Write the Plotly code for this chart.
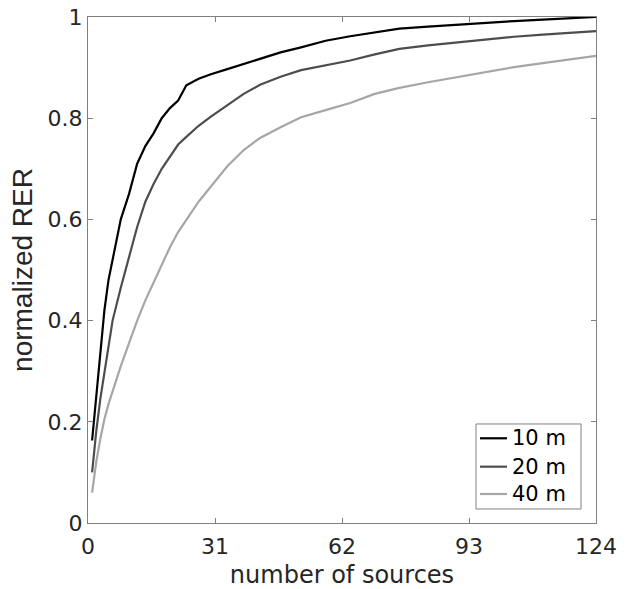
import plotly.graph_objects as go

sources = [1, 2, 3, 4, 5, 6, 8, 10, 12, 14, 16, 18, 20, 22, 24, 27, 30, 34, 38, 42,
           47, 52, 58, 64, 70, 76, 83, 90, 97, 104, 111, 118, 124]

rer_10m = [0.163, 0.245, 0.33, 0.42, 0.48, 0.52, 0.60, 0.65, 0.71, 0.745, 0.77, 0.80,
           0.82, 0.835, 0.865, 0.878, 0.887, 0.897, 0.907, 0.918, 0.930, 0.940, 0.953,
           0.962, 0.970, 0.977, 0.981, 0.985, 0.989, 0.992, 0.995, 0.997, 1.0]

rer_20m = [0.10, 0.18, 0.245, 0.30, 0.355, 0.40, 0.465, 0.525, 0.585, 0.635, 0.67, 0.70,
           0.725, 0.748, 0.763, 0.785, 0.803, 0.826, 0.848, 0.866, 0.882, 0.895, 0.905,
           0.914, 0.926, 0.937, 0.944, 0.950, 0.955, 0.961, 0.965, 0.969, 0.972]

rer_40m = [0.06, 0.12, 0.166, 0.205, 0.235, 0.26, 0.31, 0.355, 0.40, 0.44, 0.475, 0.51,
           0.545, 0.575, 0.60, 0.635, 0.665, 0.705, 0.737, 0.761, 0.782, 0.802, 0.816,
           0.83, 0.848, 0.86, 0.871, 0.881, 0.89, 0.901, 0.909, 0.916, 0.923]

series_names = ["10 m", "20 m", "40 m"]
series_colors = ["#000000", "#4d4d4d", "#a6a6a6"]

x_ticks = [0, 31, 62, 93, 124]
y_ticks = [0, 0.2, 0.4, 0.6, 0.8, 1]
y_tick_text = ["0", "0.2", "0.4", "0.6", "0.8", "1"]

fig = go.Figure()
for name, vals, col in zip(series_names, [rer_10m, rer_20m, rer_40m], series_colors):
    fig.add_trace(go.Scatter(x=sources, y=vals, mode="lines", name=name,
                             line=dict(color=col, width=2.2), showlegend=False))

axis_common = dict(showline=True, linecolor="#808080", linewidth=1, mirror="ticks",
                   ticks="inside", ticklen=5, tickcolor="#808080", showgrid=False,
                   zeroline=False, automargin=False,
                   tickfont=dict(family="DejaVu Sans", size=22, color="#262626"))

fig.update_xaxes(range=[0, 124], tickvals=x_ticks, ticklabelstandoff=4,
                 title=dict(text="number of sources",
                            font=dict(family="DejaVu Sans", size=24, color="#262626"),
                            standoff=12),
                 **axis_common)
fig.update_yaxes(range=[0, 1], tickvals=y_ticks, ticktext=y_tick_text,
                 title=dict(text="normalized RER",
                            font=dict(family="Liberation Sans", size=28, color="#262626"),
                            standoff=6),
                 **axis_common)

# Legend box drawn in paper coordinates (MATLAB-style compact legend)
leg_box = dict(x0=0.7638, x1=0.9705, y0=0.0277, y1=0.1957)
leg_rows_y = [0.1674, 0.1113, 0.0573]
leg_line_x = (0.7717, 0.8248)
leg_text_x = 0.8307

shapes = [dict(type="rect", xref="paper", yref="paper", **leg_box,
               line=dict(color="#808080", width=1), fillcolor="white", layer="above")]
annotations = []
for name, col, ry in zip(series_names, series_colors, leg_rows_y):
    shapes.append(dict(type="line", xref="paper", yref="paper",
                       x0=leg_line_x[0], x1=leg_line_x[1], y0=ry, y1=ry,
                       line=dict(color=col, width=2.2), layer="above"))
    annotations.append(dict(xref="paper", yref="paper", x=leg_text_x, y=ry,
                            text=name, showarrow=False, xanchor="left", yanchor="middle",
                            font=dict(family="DejaVu Sans", size=21, color="#000000")))

fig.update_layout(
    width=628, height=589,
    margin=dict(l=88, r=32, t=17, b=66),
    plot_bgcolor="white", paper_bgcolor="white",
    shapes=shapes, annotations=annotations,
    showlegend=False,
)

fig.write_html("out.html", config={"displayModeBar": False},
               post_script="document.body.style.margin='0';document.body.style.overflow='hidden';")
